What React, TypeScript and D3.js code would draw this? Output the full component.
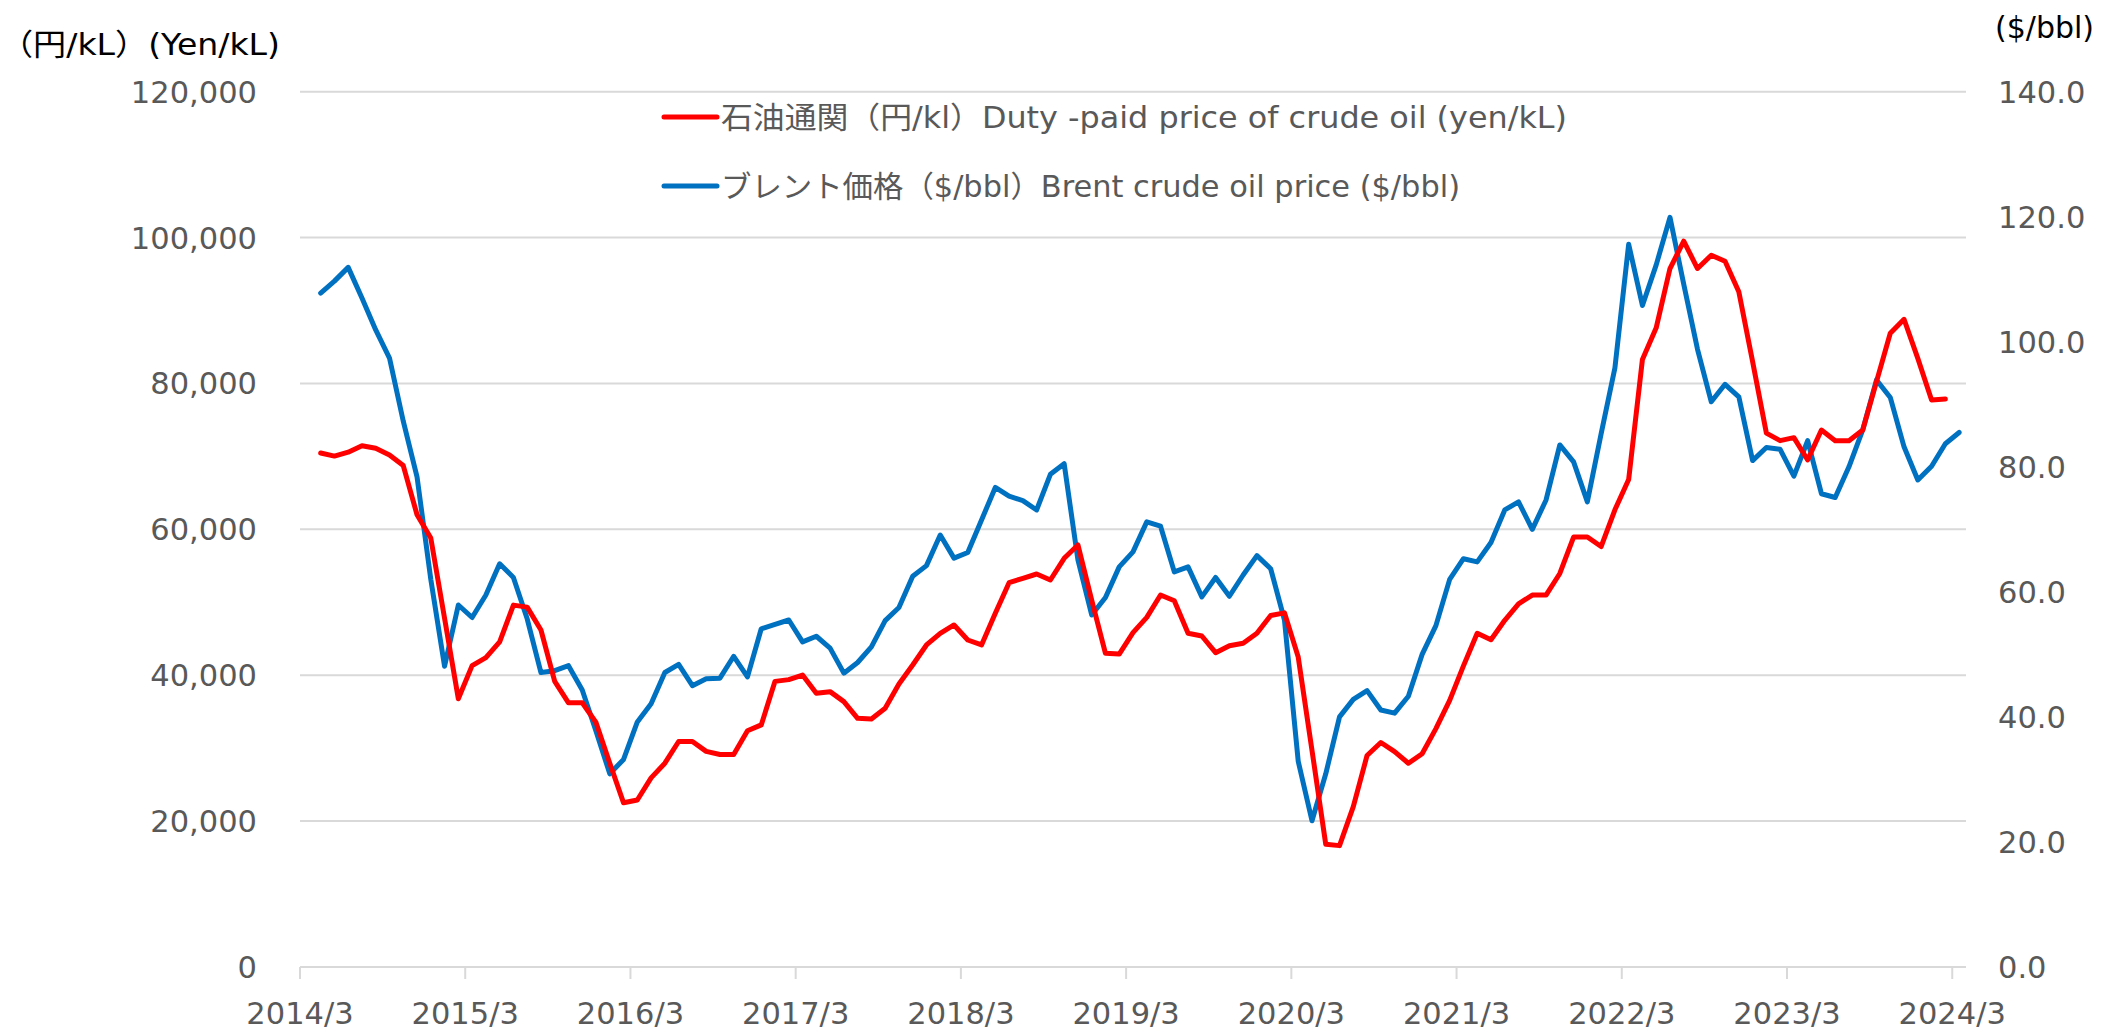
import React from "react";
import * as d3 from "d3";

// ---- data ----
const xTickLabels = [
  "2014/3", "2015/3", "2016/3", "2017/3", "2018/3", "2019/3",
  "2020/3", "2021/3", "2022/3", "2023/3", "2024/3",
];
const axisStart = "2014/3"; // first month band of the axis
const firstDataMonth = "2014/4"; // both series start here

const leftTicks = [0, 20000, 40000, 60000, 80000, 100000, 120000];
const rightTicks = [0, 20, 40, 60, 80, 100, 120, 140];

// 石油通関 (yen/kL), monthly from 2014/4 to 2024/2
const dutyPaidYen = [
  70470, 70040, 70580, 71450, 71120, 70200, 68740, 62000, 58800, 47800,
  36770, 41320, 42410, 44570, 49610, 49340, 46200, 39160, 36220, 36220,
  33520, 27940, 22510, 22900, 25930, 27940, 30920, 30920, 29560, 29130,
  29130, 32380, 33190, 39160, 39400, 40030, 37520, 37750, 36380, 34090,
  34000, 35460, 38800, 41400, 44150, 45750, 46890, 44830, 44150, 48490,
  52690, 53290, 53880, 53060, 56030, 57860, 50300, 43000, 42900, 45830,
  47940, 51000, 50220, 45750, 45380, 43090, 44050, 44380, 45750, 48200,
  48550, 42490, 29710, 16820, 16640, 21990, 29000, 30780, 29530, 27930,
  29240, 32680, 36550, 41290, 45750, 44860, 47530, 49790, 50990, 50990,
  53950, 58940, 58960, 57640, 62680, 66840, 83300, 87630, 95760, 99510,
  95760, 97580, 96760, 92570, 83000, 73200, 72160, 72570, 69510, 73620,
  72160, 72160, 73620, 80250, 86880, 88800, 83450, 77740, 77870,
];

// Brent ($/bbl), monthly from 2014/4 to 2024/3
const brentUsd = [
  107.8, 109.7, 111.9, 107.0, 101.9, 97.4, 87.3, 78.4, 62.0, 48.1,
  57.9, 55.9, 59.5, 64.5, 62.3, 55.7, 47.1, 47.4, 48.2, 44.3,
  37.7, 30.9, 33.2, 39.2, 42.1, 47.1, 48.4, 45.0, 46.1, 46.2,
  49.7, 46.4, 54.1, 54.8, 55.5, 52.0, 52.9, 51.0, 47.0, 48.7,
  51.2, 55.4, 57.5, 62.5, 64.2, 69.1, 65.4, 66.3, 71.5, 76.7,
  75.3, 74.6, 73.1, 78.8, 80.5, 65.1, 56.3, 59.1, 64.0, 66.4,
  71.2, 70.5, 63.2, 64.0, 59.2, 62.3, 59.3, 62.7, 65.8, 63.7,
  55.5, 32.9, 23.4, 30.9, 40.0, 42.8, 44.2, 41.1, 40.6, 43.3,
  50.0, 54.6, 62.0, 65.3, 64.8, 67.9, 73.1, 74.4, 70.0, 74.7,
  83.5, 80.8, 74.4, 85.3, 95.8, 115.6, 105.8, 112.3, 119.9, 109.2,
  98.8, 90.4, 93.2, 91.2, 81.0, 83.1, 82.8, 78.5, 84.2, 75.7,
  75.1, 80.0, 85.9, 93.9, 91.1, 83.2, 77.9, 80.1, 83.7, 85.5,
];

const legendRed = "石油通関（円/kl）Duty -paid price of crude oil (yen/kL)";
const legendBlue = "ブレント価格（$/bbl）Brent crude oil price ($/bbl)";
const leftTitle = "（円/kL）(Yen/kL)";
const rightTitle = "($/bbl)";

// ---- layout ----
const W = 2106;
const H = 1030;
const plotL = 300;
const plotR = 1966;
const plotT = 91.7;
const plotB = 967;
const FONT = "'DejaVu Sans', 'Noto Sans CJK JP', sans-serif";
const TXT = "#595959";
const GRID = "#d9d9d9";
const RED = "#ff0000";
const BLUE = "#0070c0";

const parseMonth = d3.timeParse("%Y/%m");
const monthIndex = (s: string) =>
  d3.timeMonth.count(parseMonth(axisStart) as Date, parseMonth(s) as Date);

export default function App() {
  const nBands = monthIndex("2024/3") + 1;
  const x = d3.scaleLinear().domain([0, nBands]).range([plotL, plotR]);
  const yL = d3.scaleLinear().domain([0, 120000]).range([plotB, plotT]);
  const yR = d3.scaleLinear().domain([0, 140]).range([plotB, plotT]);
  const off = monthIndex(firstDataMonth);

  const redPath = d3
    .line<number>()
    .x((_, i) => x(off + i + 0.5))
    .y((d) => yL(d))(dutyPaidYen);
  const bluePath = d3
    .line<number>()
    .x((_, i) => x(off + i + 0.5))
    .y((d) => yR(d))(brentUsd);

  const fmtL = d3.format(",");
  const fmtR = d3.format(".1f");

  return (
    <div style={{ position: "absolute", left: 0, top: 0 }}>
      <svg width={W} height={H} style={{ display: "block", background: "#fff" }} fontFamily={FONT}>
        {/* gridlines */}
        {leftTicks.map((t) => (
          <line key={"g" + t} x1={plotL} x2={plotR} y1={yL(t)} y2={yL(t)} stroke={GRID} strokeWidth={2} />
        ))}
        {/* x ticks */}
        {xTickLabels.map((lab) => {
          const xi = x(monthIndex(lab));
          return (
            <g key={lab}>
              <line x1={xi} x2={xi} y1={plotB} y2={plotB + 12} stroke={GRID} strokeWidth={2} />
              <text x={xi} y={1024} textAnchor="middle" fontSize={30.5} fill={TXT}>
                {lab}
              </text>
            </g>
          );
        })}
        {/* left axis labels */}
        {leftTicks.map((t) => (
          <text key={"l" + t} x={257} y={yL(t) + 11} textAnchor="end" fontSize={30.5} fill={TXT}>
            {fmtL(t)}
          </text>
        ))}
        {/* right axis labels */}
        {rightTicks.map((t) => (
          <text key={"r" + t} x={1998} y={yR(t) + 11} textAnchor="start" fontSize={30.5} fill={TXT}>
            {fmtR(t)}
          </text>
        ))}
        {/* axis titles */}
        <text x={0} y={55} fontSize={30} fill="#000" textLength={280} lengthAdjust="spacingAndGlyphs">
          {leftTitle}
        </text>
        <text x={1995} y={38} fontSize={30} fill="#000">
          {rightTitle}
        </text>
        {/* series */}
        <path d={bluePath || ""} fill="none" stroke={BLUE} strokeWidth={5} strokeLinejoin="round" strokeLinecap="round" />
        <path d={redPath || ""} fill="none" stroke={RED} strokeWidth={5} strokeLinejoin="round" strokeLinecap="round" />
        {/* legend */}
        <line x1={664} x2={717} y1={117} y2={117} stroke={RED} strokeWidth={5} strokeLinecap="round" />
        <text x={721} y={128} fontSize={30} fill={TXT} textLength={846} lengthAdjust="spacingAndGlyphs">
          {legendRed}
        </text>
        <line x1={664} x2={717} y1={186} y2={186} stroke={BLUE} strokeWidth={5} strokeLinecap="round" />
        <text x={721} y={197} fontSize={30} fill={TXT} textLength={739} lengthAdjust="spacingAndGlyphs">
          {legendBlue}
        </text>
      </svg>
    </div>
  );
}
